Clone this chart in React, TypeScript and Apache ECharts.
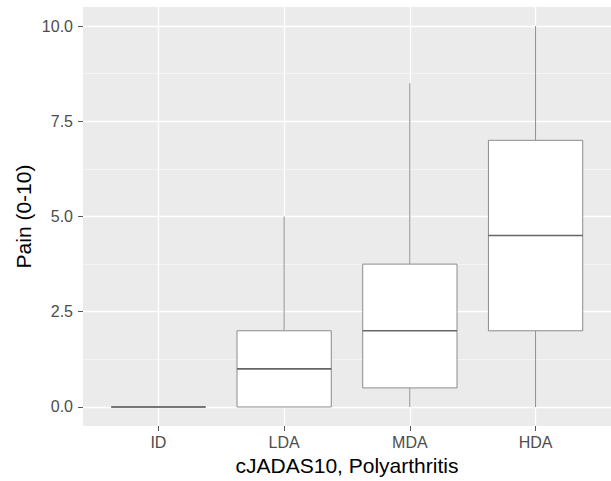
import React, { useEffect, useRef } from "react";
import * as echarts from "echarts";

const categories = ["ID", "LDA", "MDA", "HDA"];
const whiskerLow = [0, 0, 0, 0];
const q1 = [0, 0, 0.5, 2];
const median = [0, 1, 2, 4.5];
const q3 = [0, 2, 3.75, 7];
const whiskerHigh = [0, 5, 8.5, 10];

const yMajorTicks = [0, 2.5, 5, 7.5, 10];
const yMinorTicks = [1.25, 3.75, 6.25, 8.75];
const xTicks = [0, 1, 2, 3];

const FONT = "'Liberation Sans', Arial, sans-serif";

export default function App() {
  const ref = useRef<HTMLDivElement>(null);
  useEffect(() => {
    if (!ref.current) return;
    const chart = echarts.init(ref.current, undefined, { renderer: "svg" });
    const rows = categories.map((_, i) => [i, whiskerLow[i], q1[i], median[i], q3[i], whiskerHigh[i]]);
    const edge = "#8c8c8c";
    chart.setOption({
      animation: false,
      backgroundColor: "#ffffff",
      grid: {
        left: 83,
        right: 0,
        top: 7,
        bottom: 54,
        show: true,
        backgroundColor: "#EBEBEB",
        borderWidth: 0,
      },
      xAxis: {
        type: "value",
        min: -0.6,
        max: 3.6,
        position: "bottom",
        name: "cJADAS10, Polyarthritis",
        nameLocation: "middle",
        nameGap: 29,
        nameTextStyle: { fontFamily: FONT, fontSize: 21, color: "#000000" },
        axisLine: { show: true, onZero: false, lineStyle: { color: "rgba(0,0,0,0)" } },
        axisTick: { show: true, inside: false, length: 5, lineStyle: { color: "#555555", width: 1 }, customValues: xTicks },
        axisLabel: {
          customValues: xTicks,
          margin: 8,
          fontFamily: FONT,
          fontSize: 16,
          color: "#4D4D4D",
          formatter: (v: number) => categories[Math.round(v)] ?? "",
        },
        splitLine: { show: true, lineStyle: { color: "#ffffff", width: 1.3 } },
      },
      yAxis: [
        {
          type: "value",
          min: -0.5,
          max: 10.5,
          position: "left",
          name: "Pain (0-10)",
          nameLocation: "middle",
          nameGap: 49,
          nameMoveOverlap: false,
          nameTextStyle: { fontFamily: FONT, fontSize: 21, color: "#000000" },
          axisLine: { show: true, onZero: false, lineStyle: { color: "rgba(0,0,0,0)" } },
          axisTick: { show: true, inside: false, length: 5, lineStyle: { color: "#555555", width: 1 }, customValues: yMajorTicks },
          axisLabel: {
            customValues: yMajorTicks,
            margin: 10,
            fontFamily: FONT,
            fontSize: 16,
            color: "#4D4D4D",
            formatter: (v: number) => v.toFixed(1),
          },
          splitLine: { show: true, lineStyle: { color: "#ffffff", width: 1.3 } },
        },
        {
          type: "value",
          min: -0.5,
          max: 10.5,
          position: "left",
          axisLine: { show: false, onZero: false },
          axisTick: { show: false, customValues: yMinorTicks },
          axisLabel: { show: false, customValues: yMinorTicks },
          splitLine: { show: true, lineStyle: { color: "#F5F5F5", width: 1 } },
        },
      ],
      series: [
        {
          type: "custom",
          xAxisIndex: 0,
          yAxisIndex: 0,
          data: rows,
          encode: { x: 0, y: [1, 2, 3, 4, 5] },
          renderItem: (params: any, api: any) => {
            const x = api.value(0);
            const lo = api.coord([x, api.value(1)]);
            const b1 = api.coord([x, api.value(2)]);
            const md = api.coord([x, api.value(3)]);
            const b3 = api.coord([x, api.value(4)]);
            const hi = api.coord([x, api.value(5)]);
            const bw = api.size([0.75, 0])[0];
            const cx = lo[0];
            const half = bw / 2;
            return {
              type: "group",
              children: [
                { type: "line", shape: { x1: cx, y1: hi[1], x2: cx, y2: b3[1] }, style: { stroke: edge, lineWidth: 1 } },
                { type: "line", shape: { x1: cx, y1: b1[1], x2: cx, y2: lo[1] }, style: { stroke: edge, lineWidth: 1 } },
                {
                  type: "rect",
                  shape: { x: cx - half, y: b3[1], width: bw, height: b1[1] - b3[1] },
                  style: { fill: "#ffffff", stroke: edge, lineWidth: 1 },
                },
                {
                  type: "line",
                  shape: { x1: cx - half, y1: md[1], x2: cx + half, y2: md[1] },
                  style: { stroke: "#666666", lineWidth: 1.6 },
                },
              ],
            };
          },
        },
      ],
    });
    return () => chart.dispose();
  }, []);
  return <div ref={ref} style={{ position: "fixed", left: 0, top: 0, width: 611, height: 481 }} />;
}
